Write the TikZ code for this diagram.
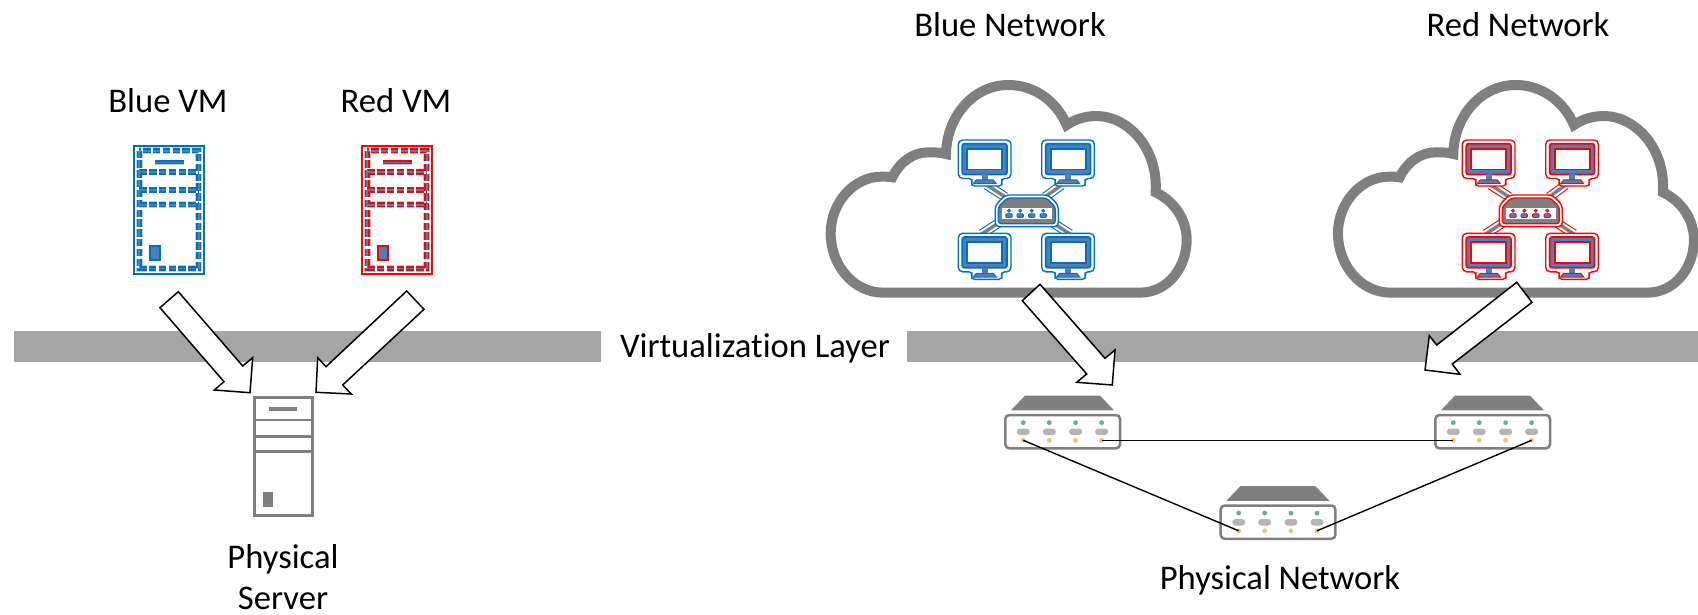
\documentclass[tikz,border=0pt]{standalone}
\usepackage{fontspec}
\setmainfont{Carlito}[Ligatures=NoCommon]
\definecolor{cgray}{HTML}{7F7F7F}
\definecolor{bargray}{HTML}{A5A5A5}
\definecolor{blueline}{HTML}{0070C0}
\definecolor{redline}{HTML}{FF0000}
\definecolor{iconfill}{HTML}{4F7FBA}
\definecolor{dotgreen}{HTML}{70A890}
\definecolor{dotorange}{HTML}{F2C46D}
\definecolor{pillgray}{HTML}{B5B5B5}
\tikzset{
  px/.style={x=0.5pt,y=-0.5pt},
  txt/.style={font=\fontsize{17.3}{20.2}\selectfont,align=center,text=black,inner sep=0pt},
  bigarrow/.style={draw=black,fill=white,line width=0.75pt,line join=miter},
  cloudline/.style={draw=cgray,line width=5pt,line join=miter,fill=white},
  barfill/.style={fill=bargray,draw=none},
  link/.style={draw=black,line width=0.7pt},
  vmdash/.style={dash pattern=on 3.7pt off 1.2pt},
}
% virtual server icon
\newcommand\vmicon[3]{% x, y, colour
 \begin{scope}[shift={(#1,#2)}]
  \draw[#3,line width=0.9pt] (0,0) rectangle (69.4,128);
  \foreach \w/\c/\o in {3.4pt/#3/0.3,2.6pt/#3/1,0.9pt/iconfill/1}{
   \begin{scope}[opacity=\o]
   \draw[\c,line width=\w,vmdash] (5,5) rectangle (64.4,122.7);
   \draw[\c,line width=\w,vmdash] (5,26.3) -- (64.4,26.3);
   \draw[\c,line width=\w,vmdash] (5,44.3) -- (64.4,44.3);
   \draw[\c,line width=\w,vmdash] (5,59) -- (64.4,59);
   \draw[\c,line width=\w*0.8] (21,16.7) -- (49.5,16.7);
   \end{scope}
  }
  \draw[#3,fill=iconfill,line width=1.1pt] (15.5,100) rectangle (25.5,114);
 \end{scope}}
% monitor icon, origin at top left
\newcommand\monitoricon[3]{%
 \begin{scope}[shift={(#1,#2)}]
  \draw[#3,fill=white,line width=0.7pt,rounded corners=2.2pt]
    (0,0) -- (52.7,0) -- (52.7,38.5) -- (42,38.5) -- (45,46) -- (12,46)-- (15,38.5) -- (0,38.5) -- cycle;
  \draw[#3,fill=iconfill,line width=0.9pt,rounded corners=1.2pt] (4,3.7) rectangle (48.7,34.5);
  \draw[#3,fill=white,line width=0.9pt] (9,9) rectangle (44,29.5);
  \fill[iconfill] (23.5,34.5) rectangle (29.5,40);
  \fill[iconfill,draw=#3,line width=0.5pt] (18,40) -- (35,40) -- (38,43.7) -- (15,43.7) -- cycle;
 \end{scope}}
% whole network icon, origin at the top left monitor
\newcommand\neticon[3]{% x,y,colour
 \begin{scope}[shift={(#1,#2)}]
  \foreach \ax/\ay/\bx/\by in {28.3/45/47/57, 103.3/45/86.7/57, 23.3/94/43.3/81, 111.7/94/91.7/81}{
   \draw[#3,line width=4.8pt] (\ax,\ay) -- (\bx,\by);
   \draw[white,line width=3.7pt] (\ax,\ay) -- (\bx,\by);
   \draw[cgray,line width=1.7pt] (\ax,\ay) -- (\bx,\by);
  }
  \foreach \dx/\dy in {0/0,83.4/0,0/93.3,83.4/93.3}{\monitoricon{\dx}{\dy}{#3}}
  \draw[#3,fill=white,line width=0.7pt,rounded corners=2pt]
    (47,55) -- (90,55) -- (100,65) -- (100,86.7) -- (37,86.7) -- (37,65) -- cycle;
  \draw[#3,fill=cgray,line width=0.7pt,rounded corners=1.5pt]
    (49,58) -- (88,58) -- (97,67) -- (97,83.7) -- (40,83.7) -- (40,67) -- cycle;
  \fill[white] (43.5,67.5) rectangle (93.5,79);
  \foreach \qx in {50.7,62,73.4,85}{
   \fill[iconfill,draw=#3,line width=0.45pt] (\qx,70.7) circle (1.5);
   \fill[iconfill,draw=#3,line width=0.45pt,rounded corners=0.5pt] (\qx-3.2,73.7) rectangle (\qx+3.2,77.5);
  }
 \end{scope}}
% physical switch: origin at top-left of body
\newcommand\swicon[3]{% name,x,y
 \begin{scope}[shift={(#2,#3)}]
  \fill[cgray] (19.7,-19.3) -- (94.7,-19.3) -- (108.7,-4.7) -- (5.7,-4.7) -- cycle;
  \draw[cgray,fill=white,line width=1.25pt,rounded corners=2pt] (0,0) rectangle (114.7,33.3);
  \foreach \dx/\k in {18/a,44/b,70.3/c,96.3/d}{
   \fill[dotgreen] (\dx,7.6) circle (2.4);
   \fill[pillgray,rounded corners=1.6pt] (\dx-6.5,13.5) rectangle (\dx+6.5,20);
   \fill[dotorange] (\dx,25.3) circle (2.4);
   \coordinate (#1-\k) at (\dx,25.3);
  }
 \end{scope}}
\newcommand\cloudicon[1]{%
 \begin{scope}[shift={(#1,70)},scale=1/3]
  \draw[cloudline] (220,668) -- (990,668)
   .. controls (1075,668) and (1130,590) .. (1130,510)
   .. controls (1130,450) and (1095,395) .. (1037,367)
   .. controls (1045,230) and (950,138) .. (860,138)
   .. controls (825,138) and (795,148) .. (770,165)
   .. controls (740,95) and (675,45) .. (595,45)
   .. controls (490,45) and (410,140) .. (408,252)
   .. controls (390,247) and (375,247) .. (355,247)
   .. controls (310,247) and (270,275) .. (247,322)
   .. controls (235,320) and (225,320) .. (215,320)
   .. controls (130,320) and (62,400) .. (62,490)
   .. controls (62,585) and (130,668) .. (220,668) -- cycle;
 \end{scope}}
\begin{document}
\begin{tikzpicture}[px]
\useasboundingbox (0,0) rectangle (1698,615);
% bars
\fill[barfill] (14,331) rectangle (601,362);
\fill[barfill] (907,331) rectangle (1698,362);
% clouds and networks
\cloudicon{810}
\cloudicon{1317.3}
\neticon{958.3}{140}{blueline}
\neticon{1462.3}{140}{redline}
% VMs
\vmicon{134.3}{145.7}{blueline}
\vmicon{362.3}{145.7}{redline}
% physical server
\begin{scope}[cgray]
 \draw[line width=1.5pt] (254.3,397.3) rectangle (312.7,515.7);
 \draw[line width=1pt] (254.3,419.7) -- (312.7,419.7);
 \draw[line width=1.5pt] (254.3,436.3) -- (312.7,436.3);
 \draw[line width=1.5pt] (254.3,451.3) -- (312.7,451.3);
 \fill (269,407) rectangle (297,411);
 \fill (263,492) rectangle (273,507);
\end{scope}
% physical switches
\swicon{swA}{1005.3}{415}
\swicon{swB}{1435.3}{415}
\swicon{swC}{1220.7}{505.5}
\draw[link] (swA-d) -- (swB-a);
\draw[link] (swA-a) -- (swC-a);
\draw[link] (swC-d) -- (swB-d);
% arrows
\draw[bigarrow] (178.3,291.7) -- (242.7,366) -- (252.7,357.7) -- (250,392.7) -- (214.3,390) -- (224,381.7) -- (160,307.7) -- cycle;
\draw[bigarrow] (406.7,291) -- (326,366.7) -- (317.7,357.7) -- (316,392.3) -- (351.3,394) -- (342.7,385) -- (424,309.3) -- cycle;
\draw[bigarrow] (1040,284.3) -- (1105,358.3) -- (1115,350) -- (1112.3,385) -- (1076.7,382.3) -- (1086.7,374) -- (1022.3,300.7) -- cycle;
\draw[bigarrow] (1516.7,282.3) -- (1436.7,345) -- (1429.3,335.7) -- (1425,370) -- (1460,374.3) -- (1452.3,364) -- (1532,302.3) -- cycle;
% labels
\node[txt] (blueVM) at (168,101) {Blue VM};
\node[txt] (redVM) at (396,101) {Red VM};
\node[txt] (blueNet) at (1010,25) {Blue Network};
\node[txt] (redNet) at (1518,25) {Red Network};
\node[txt] (virt) at (755,348) {Virtualization Layer};
\node[txt] (physS) at (283,577) {Physical\\Server};
\node[txt] (physN) at (1280,580) {Physical Network};
\end{tikzpicture}
\end{document}
